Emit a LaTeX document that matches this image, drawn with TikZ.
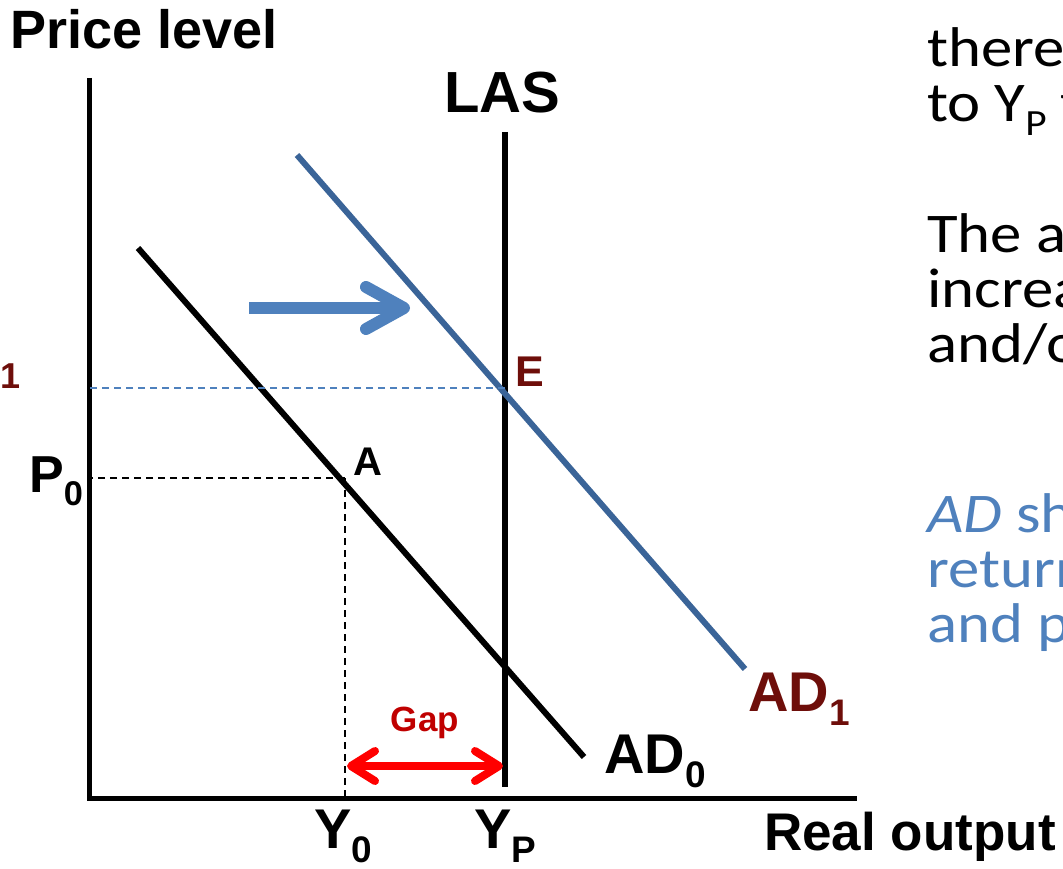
\documentclass[tikz,border=0pt]{standalone}
\usepackage{fontspec}
\setmainfont{Liberation Sans}
\newfontfamily\slidefont{Carlito}
\usepackage{tikz}
\usetikzlibrary{arrows.meta, calc, positioning}
\usepackage{xcolor}
\definecolor{mNavy}{HTML}{3A6498}
\definecolor{mSky}{HTML}{4F81BD}
\definecolor{mMaroon}{HTML}{6E0E0A}
\definecolor{mRed}{HTML}{FF0000}
\definecolor{mCrimson}{HTML}{C00000}
\newcommand{\lowidx}[1]{\raisebox{-0.25em}{\scalebox{0.66}{#1}}}
\newcommand{\fsz}[1]{\fontsize{#1}{#1}\selectfont}
\newcommand{\wide}[1]{\scalebox{1.12}[1]{#1}}

\begin{document}
\begin{tikzpicture}[x=1pt, y=-1pt,
    lbl/.style={inner sep=0pt, anchor=base west, font=\bfseries\fsz{56}},
    slide/.style={inner sep=0pt, anchor=base west, font=\slidefont\fsz{56}},
    guide/.style={line width=1.8pt, dash pattern=on 7pt off 5pt},
    curve/.style={line width=6pt}]
  \useasboundingbox (0,0) rectangle (1063,869);
  % axes
  \coordinate (top) at (89,78);
  \coordinate (origin) at (89,798);
  \coordinate (right) at (857,798);
  \draw[line width=5pt] (top) -- (origin) -- (right);
  \node[lbl, font=\bfseries\fsz{54}] (plab) at (10,49) {Price level};
  \node[lbl, font=\bfseries\fsz{53}] (xlab) at (764,850) {Real output};
  % long-run supply
  \coordinate (lasT) at (505,132);
  \coordinate (lasB) at (505,787);
  \draw[curve] (lasT) -- (lasB);
  \node[lbl, anchor=base, font=\bfseries\fsz{58}] (laslab) at (502,113) {LAS};
  % demand curves
  \coordinate (ad0T) at (138,248);
  \coordinate (ad0B) at (584,757);
  \coordinate (ad1T) at (297,155);
  \coordinate (ad1B) at (745,669);
  \draw[curve] (ad0T) -- (ad0B);
  \draw[curve, mNavy] (ad1T) -- (ad1B);
  \node[lbl] (ad0lab) at (604,773) {AD\lowidx{0}};
  \node[lbl, mMaroon] (ad1lab) at (748,711) {AD\lowidx{1}};
  % points A and E
  \coordinate (A) at (345,478);
  \coordinate (E) at (505,388);
  \draw[guide] (A) -- (A -| origin);
  \draw[guide] (A) -- (A |- origin);
  \draw[guide, mSky] (E) -- (E -| origin);
  \node[lbl, font=\bfseries\fsz{40}] (alab) at (353,475) {A};
  \node[lbl, mMaroon, font=\bfseries\fsz{43}] (elab) at (515,386) {E};
  \node[lbl, font=\bfseries\fsz{52}] (p0lab) at (29,492) {P\lowidx{0}};
  \node[lbl, mMaroon, font=\bfseries\fsz{36}] (p1lab) at (0,388) {1};
  \node[lbl] (y0lab) at (314,848) {Y\lowidx{0}};
  \node[lbl] (yplab) at (474,848) {Y\lowidx{P}};
  % output gap
  \coordinate (gapL) at (347,766);
  \coordinate (gapR) at (503,766);
  \draw[mRed, line width=8pt, line cap=round,
        {Straight Barb[length=24pt, width=30pt, round]}-{Straight Barb[length=24pt, width=30pt, round]}]
        (gapL) -- (gapR);
  \node[lbl, anchor=base, mCrimson, font=\bfseries\fsz{35}] (gaplab) at (425,731) {Gap};
  % shift of demand
  \coordinate (shiftL) at (249,308);
  \coordinate (shiftR) at (410,308);
  \draw[mSky, line width=12pt, -{Straight Barb[length=38pt, width=42pt, round]}] (shiftL) -- (shiftR);
  % slide text, clipped at the right edge
  \foreach \txt/\yb in {there/67, {to Y\lowidx{P} t}/122, {The a}/252, increa/307, {and/o}/362} {
    \node[slide] at (927,\yb) {\wide{\txt}};
  }
  \foreach \txt/\yb in {{\textit{AD} sh}/532, return/587, {and p}/642} {
    \node[slide, mSky] at (927,\yb) {\wide{\txt}};
  }
\end{tikzpicture}
\end{document}
